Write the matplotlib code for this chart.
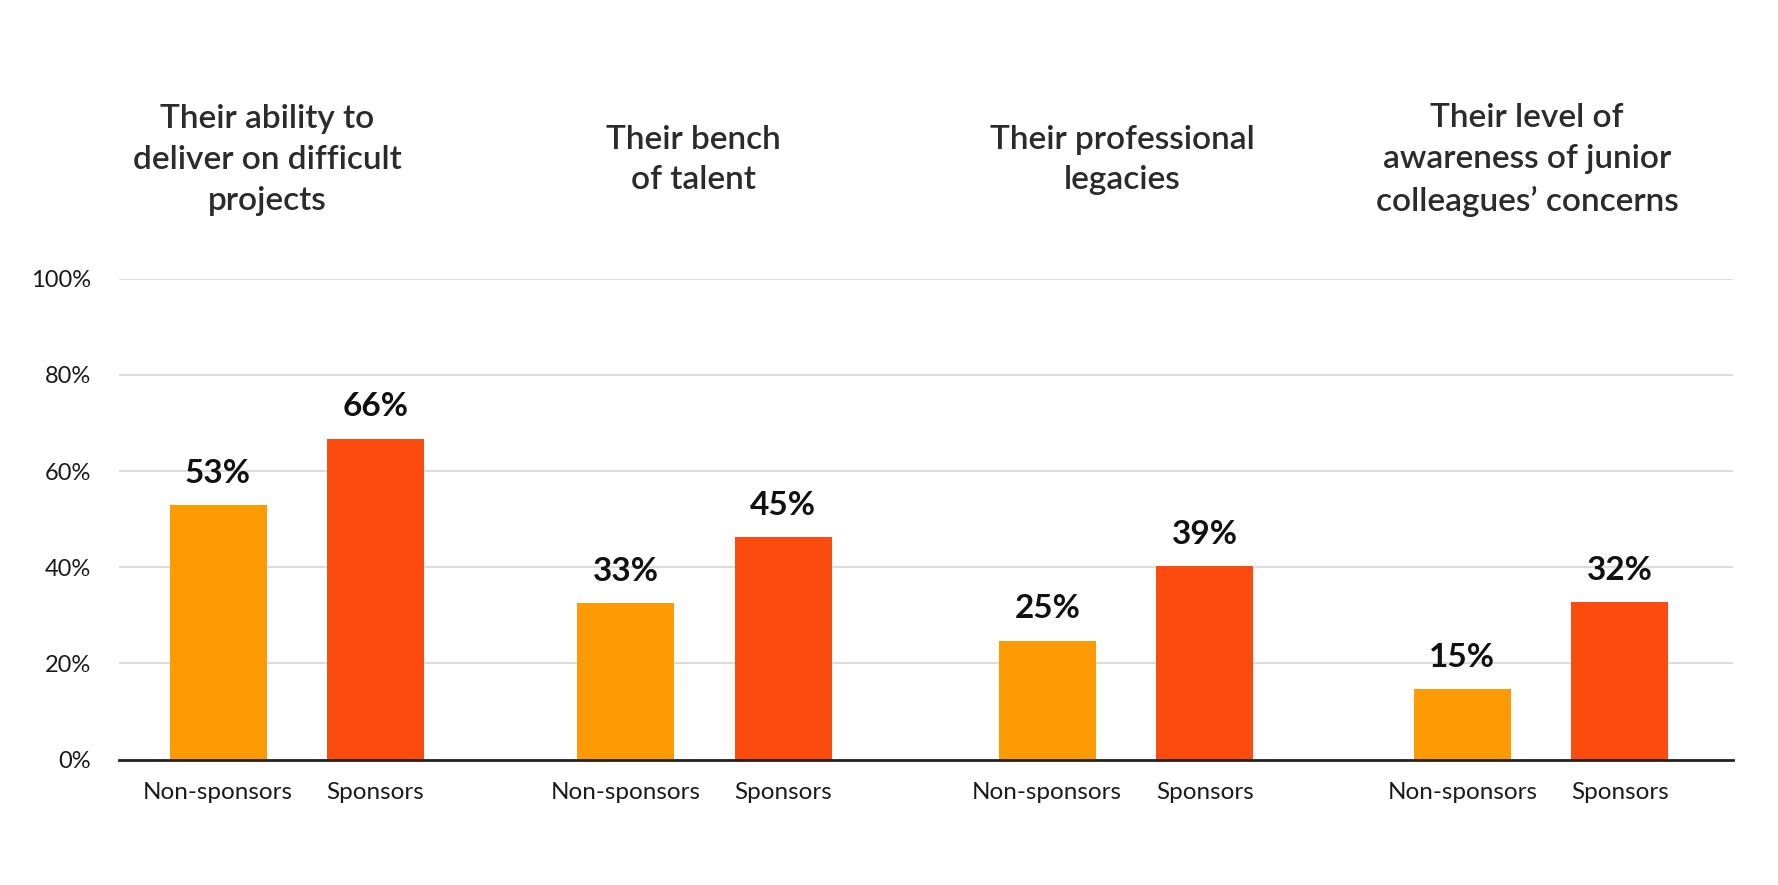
import matplotlib.pyplot as plt
import numpy as np

# data
titles = ['Their ability to\ndeliver on difficult\nprojects',
          'Their bench\nof talent',
          'Their professional\nlegacies',
          'Their level of\nawareness of junior\ncolleagues\u2019 concerns']
series_names = ['Non-sponsors', 'Sponsors']
non_sponsors = [52.9, 32.5, 24.7, 14.6]
sponsors = [66.7, 46.2, 40.2, 32.7]
non_labels = ['53%', '33%', '25%', '15%']
spon_labels = ['66%', '45%', '39%', '32%']
y_ticks = [0, 20, 40, 60, 80, 100]

plt.rcParams['font.family'] = ['Lato', 'DejaVu Sans']

W, H = 1778, 885
fig = plt.figure(figsize=(W / 100, H / 100), dpi=100)
fig.patch.set_facecolor('white')

ax_l, ax_r = 119, 1733
ax_top, ax_bot = 278.7, 759.5
ax = fig.add_axes([ax_l / W, 1 - ax_bot / H, (ax_r - ax_l) / W, (ax_bot - ax_top) / H])

# layout (pixels along x)
group_x = np.array([296.75, 704.25, 1126, 1541])
offset = 78.75
bar_w = 97
title_x = [267, 693, 1122, 1527]

c_non = '#FD9A04'
c_spon = '#FB4B0E'

x_non = group_x - offset
x_spon = group_x + offset
ax.bar(x_non, non_sponsors, width=bar_w, color=c_non, zorder=3)
ax.bar(x_spon, sponsors, width=bar_w, color=c_spon, zorder=3)

for x, v, t in zip(x_non, non_sponsors, non_labels):
    ax.text(x, v + 3.6, t, ha='center', va='bottom', fontsize=24,
            fontweight='bold', color='#111111')
for x, v, t in zip(x_spon, sponsors, spon_labels):
    ax.text(x, v + 3.6, t, ha='center', va='bottom', fontsize=24,
            fontweight='bold', color='#111111')

ax.set_xlim(ax_l, ax_r)
ax.set_ylim(0, 100)
ax.set_yticks(y_ticks)
ax.set_yticklabels([f'{t}%' for t in y_ticks])
ax.yaxis.grid(True, color='#dcdcdc', linewidth=1.5, zorder=0)
ax.set_axisbelow(True)

xs = np.concatenate([x_non, x_spon])
labs = [series_names[0]] * 4 + [series_names[1]] * 4
ax.set_xticks(xs)
ax.set_xticklabels(labs)
ax.tick_params(axis='x', length=0, pad=16, labelsize=17.5, labelcolor='#1a1a1a')
ax.tick_params(axis='y', length=0, pad=20, labelsize=17, labelcolor='#1a1a1a')

for s in ['top', 'right', 'left']:
    ax.spines[s].set_visible(False)
ax.spines['bottom'].set_color('#222222')
ax.spines['bottom'].set_linewidth(2)
ax.spines['bottom'].set_zorder(4)

for tx, t in zip(title_x, titles):
    fig.text(tx / W, 1 - 160 / H, t, ha='center', va='center', fontsize=24,
             fontweight='semibold', color='#2b2b2b', linespacing=1.45)

fig.savefig('out.png', dpi=100, facecolor='white')
